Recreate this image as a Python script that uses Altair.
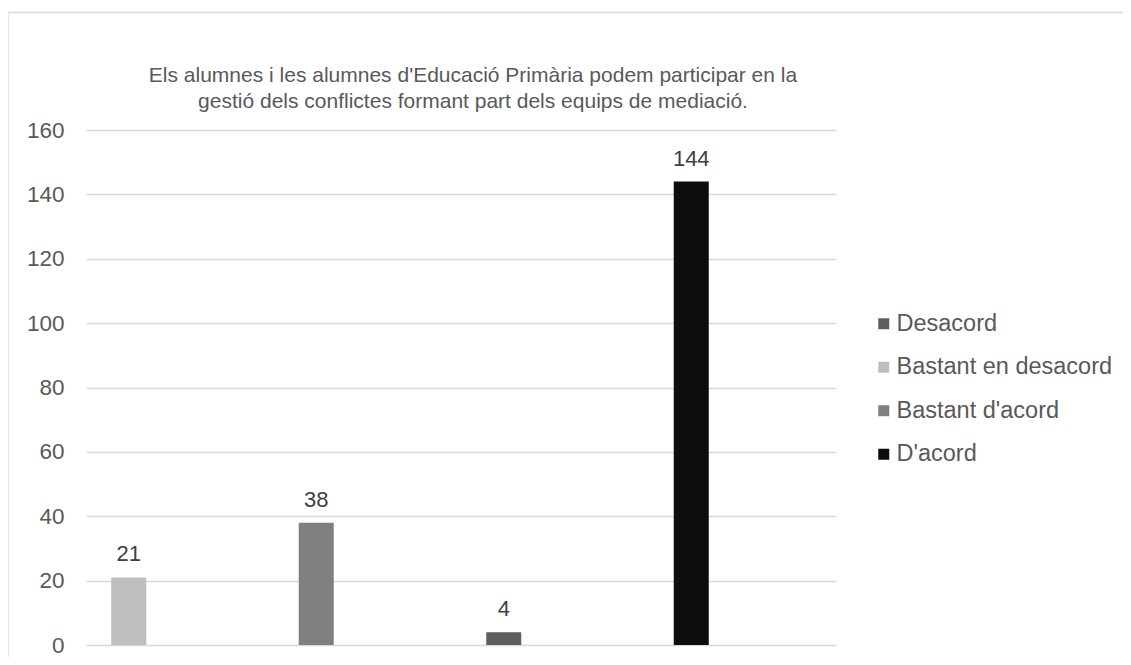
import altair as alt
import pandas as pd

# ---- data ----
categories = ["1", "2", "3", "4"]
series = ["Bastant en desacord", "Bastant d'acord", "Desacord", "D'acord"]
values = [21, 38, 4, 144]
legend_order = ["Desacord", "Bastant en desacord", "Bastant d'acord", "D'acord"]
legend_colors = ["#5f5f5f", "#bfbfbf", "#7f7f7f", "#0d0d0d"]
y_ticks = [0, 20, 40, 60, 80, 100, 120, 140, 160]
title_lines = [
    "Els alumnes i les alumnes d'Educació Primària podem participar en la",
    "gestió dels conflictes formant part dels equips de mediació.",
]

df = pd.DataFrame({"cat": categories, "serie": series, "valor": values})

FONT = "Liberation Sans"
TXT = "#595959"

x_enc = alt.X("cat:N", sort=categories,
              scale=alt.Scale(paddingInner=0, paddingOuter=0), axis=None)
y_enc = alt.Y("valor:Q",
              scale=alt.Scale(domain=[0, 160], nice=False),
              axis=alt.Axis(values=y_ticks, title=None, domain=False, ticks=False,
                            labelFont=FONT, labelFontSize=22.5, labelColor=TXT,
                            labelPadding=22, grid=True, gridColor="#d9d9d9",
                            gridWidth=1.3))

frame = alt.Chart(pd.DataFrame({"a": [0]})).mark_rect(
    fillOpacity=0, stroke="#d9d9d9", strokeWidth=1.3
).encode(
    x=alt.value(-78), x2=alt.value(1300),
    y=alt.value(-117.5), y2=alt.value(900)
)

title = alt.Chart(pd.DataFrame({"a": [0]})).mark_text(
    text=title_lines, font=FONT, fontSize=21, color=TXT, align="center",
    baseline="alphabetic", lineHeight=26
).encode(x=alt.value(387), y=alt.value(-48))

bars = alt.Chart(df).mark_bar(size=35, xOffset=-51).encode(
    x=x_enc,
    y=y_enc,
    color=alt.Color("serie:N",
                    scale=alt.Scale(domain=legend_order, range=legend_colors),
                    legend=alt.Legend(title=None, orient="none", legendX=786, legendY=182,
                                      symbolType="square", symbolSize=121,
                                      symbolStrokeWidth=0,
                                      labelFont=FONT, labelFontSize=23.5,
                                      labelColor=TXT, rowPadding=18.5,
                                      labelOffset=1, padding=0, labelLimit=0)),
)

labels = alt.Chart(df).mark_text(
    xOffset=-51, dy=-16, baseline="alphabetic", font=FONT, fontSize=22,
    color="#404040"
).encode(
    x=x_enc,
    y=alt.Y("valor:Q"),
    text=alt.Text("valor:Q"),
)

chart = alt.layer(frame, title, bars, labels).properties(
    width=750, height=515,
    padding={"left": 78, "top": 122, "right": 287, "bottom": 12},
    autosize=alt.AutoSizeParams(type="none"),
    background="white",
).configure_view(stroke=None, strokeWidth=0)

chart.save("out.html", embed_options={"renderer": "svg", "actions": False})
